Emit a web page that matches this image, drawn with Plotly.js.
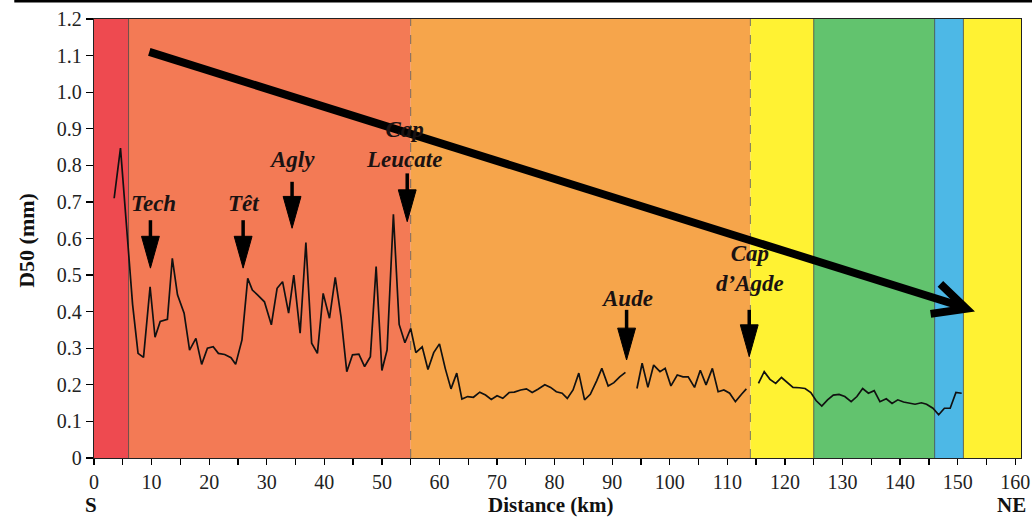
<!DOCTYPE html>
<html>
<head>
<meta charset="utf-8">
<script src="https://cdn.plot.ly/plotly-3.0.1.min.js"></script>
<style>html,body{margin:0;padding:0;background:#fff;}#chart{width:1032px;height:517px;}</style>
</head>
<body>
<div id="chart"></div>
<script>
// ---- data ----
const distanceKm = [3.5,4.6,6.7,7.65,8.6,9.74,10.6,11.5,12.75,13.6,14.5,15.65,16.6,17.7,18.7,19.7,20.7,21.6,22.7,23.8,24.6,25.7,26.7,27.5,28.4,29.6,30.8,31.8,32.75,33.8,34.7,35.8,36.8,37.8,38.8,39.8,40.9,41.9,42.9,43.9,44.9,46.0,47.0,48.0,49.0,50.0,50.9,52.0,53.0,54.0,55.0,55.9,57.0,58.0,59.0,60.0,61.0,62.0,63.0,63.9,64.9,65.9,67.0,68.0,69.0,70.0,71.0,72.1,73.0,74.1,75.1,76.1,77.1,78.3,79.3,80.3,81.3,82.2,83.2,84.2,85.2,86.2,87.3,88.2,89.3,90.3,91.3,92.3,
  null,
  94.3,95.2,96.2,97.2,98.3,99.2,100.2,101.3,102.3,103.2,104.3,105.3,106.3,107.4,108.4,109.4,110.4,111.4,112.5,113.3,
  null,
  115.4,116.4,117.4,118.4,119.4,120.5,121.4,122.5,123.5,124.5,125.4,126.4,127.4,128.4,129.4,130.4,131.5,132.5,133.5,134.5,135.5,136.5,137.6,138.6,139.6,140.6,141.6,142.6,143.7,144.6,145.7,146.7,147.7,148.7,149.7,150.7];
const d50mm = [0.71,0.847,0.42,0.286,0.275,0.468,0.33,0.373,0.379,0.546,0.446,0.396,0.295,0.327,0.256,0.30,0.304,0.286,0.283,0.274,0.256,0.323,0.491,0.459,0.446,0.427,0.364,0.464,0.482,0.396,0.50,0.341,0.589,0.314,0.286,0.45,0.382,0.494,0.386,0.236,0.282,0.284,0.25,0.277,0.523,0.239,0.295,0.666,0.365,0.315,0.354,0.288,0.304,0.242,0.288,0.312,0.245,0.189,0.232,0.161,0.168,0.166,0.18,0.172,0.16,0.17,0.163,0.179,0.18,0.186,0.189,0.179,0.188,0.20,0.193,0.181,0.177,0.163,0.186,0.232,0.159,0.174,0.211,0.245,0.197,0.206,0.222,0.234,
  null,
  0.19,0.259,0.193,0.254,0.236,0.245,0.197,0.227,0.222,0.222,0.193,0.24,0.20,0.245,0.181,0.186,0.177,0.154,0.175,0.189,
  null,
  0.204,0.236,0.215,0.204,0.22,0.204,0.193,0.192,0.19,0.179,0.157,0.142,0.159,0.172,0.174,0.168,0.154,0.168,0.19,0.177,0.184,0.154,0.162,0.149,0.159,0.153,0.149,0.147,0.151,0.147,0.136,0.118,0.136,0.136,0.179,0.177];

// coastal sector bands (km)
const bandEdges  = [0, 6, 55, 114, 125, 146, 151, 161];
const bandColors = ['#EE4A50','#F37A55','#F6A54B','#FFF233','#62C36E','#4DB8E6','#FFF233'];
const dashedEdges = [55, 114];

// river / cape markers
const markerNames = ['Tech','Têt','Agly','Cap<br>Leucate','Aude','Cap<br>d’Agde'];
const markerKm    = [9.8, 25.9, 34.4, 54.4, 92.5, 113.8];

const yTickVals = [0,0.1,0.2,0.3,0.4,0.5,0.6,0.7,0.8,0.9,1.0,1.1,1.2];
const yTickText = ['0','0.1','0.2','0.3','0.4','0.5','0.6','0.7','0.8','0.9','1.0','1.1','1.2'];
const xTickVals = [0,10,20,30,40,50,60,70,80,90,100,110,120,130,140,150,160];

// ---- styling / layout ----
const serif = 'Liberation Serif, Times New Roman, serif';
const arrowTip  = [0.519, 0.519, 0.628, 0.646, 0.268, 0.277];
const arrowTop  = [0.65, 0.65, 0.755, 0.778, 0.405, 0.405];
const labelX    = [10.4, 25.9, 34.4, 53.9, 92.5, 113.9];
const labelY    = [0.697, 0.697, 0.815, 0.858, 0.437, 0.517];

const shapes = [];
for (let i = 0; i < bandColors.length; i++) {
  shapes.push({type:'rect', layer:'below', xref:'x', yref:'paper',
    x0: bandEdges[i], x1: bandEdges[i+1], y0:0, y1:1,
    fillcolor: bandColors[i], line:{width:0}});
}
for (let i = 1; i < bandEdges.length - 1; i++) {
  const dashed = dashedEdges.includes(bandEdges[i]);
  shapes.push({type:'line', layer:'below', xref:'x', yref:'paper',
    x0: bandEdges[i], x1: bandEdges[i], y0:0, y1:1,
    line:{color: dashed ? 'rgba(90,90,90,0.8)' : 'rgba(50,50,50,0.7)', width:1, dash: dashed ? 'dash' : 'solid'}});
}
// marker arrows
const headLen = 0.087, headHalf = 1.55;
for (let i = 0; i < markerKm.length; i++) {
  const x = markerKm[i], tip = arrowTip[i], base = tip + headLen;
  shapes.push({type:'line', xref:'x', yref:'y', x0:x, x1:x, y0:arrowTop[i], y1:base-0.005,
    line:{color:'#000', width:3.5}});
  shapes.push({type:'path', xref:'x', yref:'y',
    path:`M ${x-headHalf},${base} L ${x+headHalf},${base} L ${x},${tip} Z`,
    fillcolor:'#000', line:{color:'#000', width:1}});
}
// big trend arrow
shapes.push({type:'path', xref:'x', yref:'y',
  path:'M 9.6,1.11 L 151.1,0.412',
  line:{color:'#000', width:8}});
shapes.push({type:'path', xref:'x', yref:'y',
  path:'M 147.0,0.476 L 151.5,0.408 L 145.3,0.394',
  line:{color:'#000', width:8}});
// top border line of the figure
shapes.push({type:'line', xref:'paper', yref:'paper',
  x0:-0.086, x1:1.02, y0:1.041, y1:1.041, line:{color:'#000', width:3}});

const annotations = [];
for (let i = 0; i < markerNames.length; i++) {
  annotations.push({x: labelX[i], y: labelY[i], xref:'x', yref:'y', text: `<b><i>${markerNames[i]}</i></b>`,
    showarrow:false, xanchor:'center', yanchor:'middle',
    font:{family:serif, size:23, color:'#1a1212'}, align:'center'});
}
const axisTitleFont = {family:serif, size:21, color:'#111'};
annotations.push({xref:'paper', yref:'paper', x:-0.0723, y:0.497, xanchor:'center', yanchor:'middle',
  text:'<b>D50 (mm)</b>', textangle:-90, showarrow:false, font:{family:serif, size:22, color:'#111'}});
annotations.push({xref:'paper', yref:'paper', x:0.492, y:-0.107, xanchor:'center', yanchor:'middle',
  text:'<b>Distance (km)</b>', showarrow:false, font:axisTitleFont});
annotations.push({xref:'paper', yref:'paper', x:-0.003, y:-0.107, xanchor:'center', yanchor:'middle',
  text:'<b>S</b>', showarrow:false, font:axisTitleFont});
annotations.push({xref:'paper', yref:'paper', x:0.990, y:-0.107, xanchor:'center', yanchor:'middle',
  text:'<b>NE</b>', showarrow:false, font:axisTitleFont});

const trace = {x: distanceKm, y: d50mm, type:'scatter', mode:'lines',
  line:{color:'#111', width:1.7}, connectgaps:false, hoverinfo:'skip'};

const tickFont = {family:serif, size:20, color:'#222'};
const layout = {
  width:1032, height:517,
  margin:{l:94, r:11, t:19, b:59, pad:0},
  paper_bgcolor:'#fff', plot_bgcolor:'#fff',
  showlegend:false,
  xaxis:{range:[0,161], tickvals:xTickVals, ticks:'outside', ticklen:6, tickwidth:1.3, tickcolor:'#000',
    minor:{dtick:5, tick0:0, ticks:'outside', ticklen:6, tickwidth:1.3, tickcolor:'#000'},
    showgrid:false, zeroline:false, showline:true, linecolor:'#222', linewidth:1.3, mirror:true,
    tickfont:tickFont, fixedrange:true},
  yaxis:{range:[0,1.2], tickvals:yTickVals, ticktext:yTickText, ticks:'outside', ticklen:7, tickwidth:1.3, tickcolor:'#000',
    showgrid:false, zeroline:false, showline:true, linecolor:'#222', linewidth:1.3, mirror:true,
    tickfont:tickFont, fixedrange:true},
  shapes: shapes,
  annotations: annotations
};

Plotly.newPlot('chart', [trace], layout, {displayModeBar:false, staticPlot:true});
</script>
</body>
</html>
